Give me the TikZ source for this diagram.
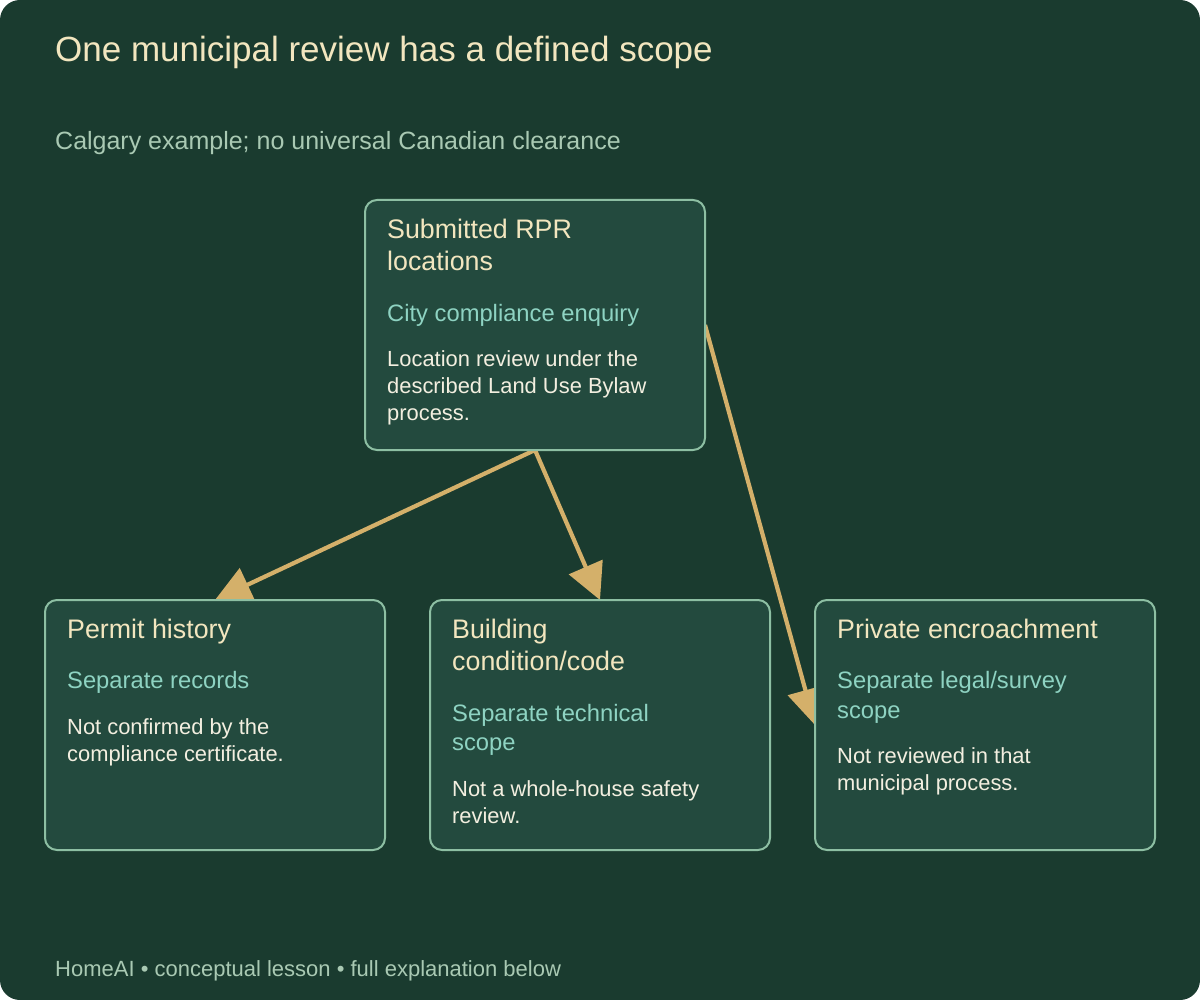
\documentclass[tikz,border=0pt]{standalone}
\usepackage{fontspec}
\setmainfont{Liberation Sans}
\usepackage{xcolor}
\usepackage{tikz}
\usetikzlibrary{arrows.meta,positioning}
\definecolor{pine}{HTML}{1A3B2F}
\definecolor{moss}{HTML}{234A3E}
\definecolor{sage}{HTML}{8DBFA3}
\definecolor{cream}{HTML}{F2E6BF}
\definecolor{mint}{HTML}{8ED3C2}
\definecolor{ivory}{HTML}{F3EFE0}
\definecolor{fern}{HTML}{A9C9B3}
\definecolor{wheat}{HTML}{D4B06A}
\pgfdeclarelayer{back}
\pgfdeclarelayer{wires}
\pgfsetlayers{back,wires,main}
\newcommand\cardhead{\fontsize{26.8}{32.5}\selectfont\spaceskip=0pt\xspaceskip=0pt\color{cream}}
\newcommand\cardtag{\fontsize{23.75}{29.5}\selectfont\spaceskip=0pt\xspaceskip=0pt\color{mint}}
\newcommand\cardbody{\fontsize{21.9}{27}\selectfont\spaceskip=0pt\xspaceskip=0pt\color{ivory}}
\tikzset{
  cardbox/.style={
    rectangle, rounded corners=12pt, draw=sage, fill=moss, line width=2pt,
    minimum width=340pt, minimum height=250pt,
    inner sep=0pt, outer sep=0pt
  },
  cardtext/.style={
    anchor=north west, text width=300pt, align=left, inner sep=0pt,
    execute at begin node={\setlength{\parindent}{0pt}}
  },
  flowarrow/.style={
    -{Triangle[length=36pt,width=36pt]}, line width=4.2pt, color=wheat
  },
  pagetext/.style={
    anchor=base west, inner sep=0pt, text=#1
  },
  pagetext/.default=fern,
}

\begin{document}
\begin{tikzpicture}[x=1pt, y=-1pt]

\useasboundingbox (0,0) rectangle (1200,1000);
\begin{pgfonlayer}{back}
  \fill[pine, rounded corners=20pt] (0,0) rectangle (1200,1000);
\end{pgfonlayer}

% Heading
\node[pagetext=cream, font=\fontsize{35}{42}\selectfont] (title) at (55,62) {One municipal review has a defined scope};
\node[pagetext, font=\fontsize{25}{30}\selectfont] (subtitle) at (55,150) {Calgary example; no universal Canadian clearance};

% Cards
\node[cardbox] (rpr) at (535,325) {};
\node[cardbox] (permit) at (215,725) {};
\node[cardbox, right=45pt of permit] (building) {};
\node[cardbox, right=45pt of building] (encroach) {};

% Connectors (under the cards)
\begin{pgfonlayer}{wires}
  \draw[flowarrow] (rpr.south) -- (permit.north);
  \draw[flowarrow] (rpr.south) -- (building.north);
  \draw[flowarrow] (rpr.east) -- (encroach.west);
\end{pgfonlayer}

% Card texts
\node[cardtext] (rpr-txt) at ([shift={(22,18)}]rpr.north west) {%
  {\cardhead\rule{0pt}{20pt}Submitted RPR\\locations\par}
  \vskip 21pt
  {\cardtag City compliance enquiry\par}
  \vskip 18.5pt
  {\cardbody Location review under the\\described Land Use Bylaw\\process.\par}};

\node[cardtext] (permit-txt) at ([shift={(22,18)}]permit.north west) {%
  {\cardhead\rule{0pt}{20pt}Permit history\par}
  \vskip 21pt
  {\cardtag Separate records\par}
  \vskip 18.5pt
  {\cardbody Not confirmed by the\\compliance certificate.\par}};

\node[cardtext] (building-txt) at ([shift={(22,18)}]building.north west) {%
  {\cardhead\rule{0pt}{20pt}Building\\condition/code\par}
  \vskip 21pt
  {\cardtag Separate technical\\scope\par}
  \vskip 18.5pt
  {\cardbody Not a whole-house safety\\review.\par}};

\node[cardtext] (encroach-txt) at ([shift={(22,18)}]encroach.north west) {%
  {\cardhead\rule{0pt}{20pt}Private encroachment\par}
  \vskip 21pt
  {\cardtag Separate legal/survey\\scope\par}
  \vskip 18.5pt
  {\cardbody Not reviewed in that\\municipal process.\par}};

% Footer
\node[pagetext, font=\fontsize{22}{26}\selectfont] (footer) at (55,976) {HomeAI • conceptual lesson • full explanation below};

\end{tikzpicture}
\end{document}
